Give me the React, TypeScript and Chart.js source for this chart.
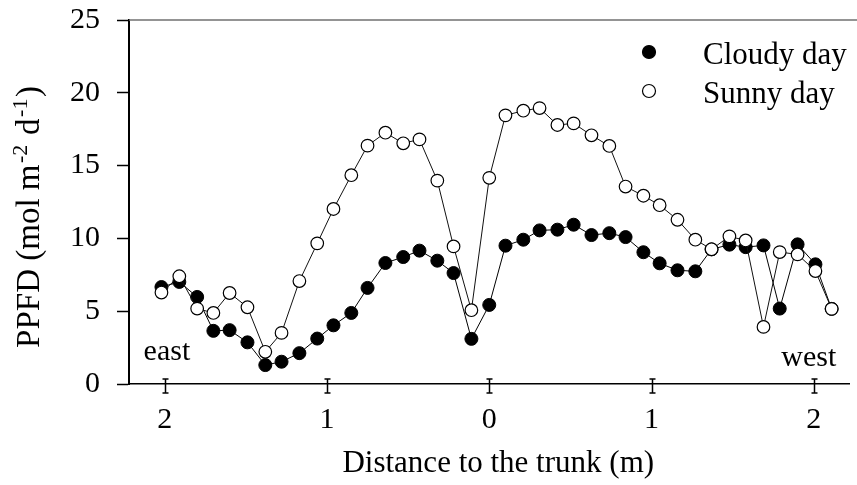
import React, { useEffect, useRef } from "react";
import { Chart, registerables } from "chart.js";

Chart.register(...registerables);

// Distance to the trunk (m); east side negative, west side positive
const distance = [
  -2.02, -1.91, -1.8, -1.7, -1.6, -1.49, -1.38, -1.28, -1.17, -1.06,
  -0.96, -0.85, -0.75, -0.64, -0.53, -0.43, -0.32, -0.22, -0.11, 0.0,
  0.1, 0.21, 0.31, 0.42, 0.52, 0.63, 0.74, 0.84, 0.95, 1.05,
  1.16, 1.27, 1.37, 1.48, 1.58, 1.69, 1.79, 1.9, 2.01, 2.11,
];

const cloudyDay = [
  6.66, 7.01, 5.98, 3.65, 3.7, 2.86, 1.3, 1.53, 2.12, 3.12,
  4.03, 4.88, 6.6, 8.31, 8.72, 9.16, 8.47, 7.62, 3.1, 5.43,
  9.5, 9.91, 10.55, 10.6, 10.94, 10.23, 10.36, 10.09, 9.05, 8.29,
  7.81, 7.74, 9.25, 9.57, 9.4, 9.52, 5.18, 9.59, 8.22, 5.16,
];

const sunnyDay = [
  6.28, 7.4, 5.18, 4.88, 6.25, 5.27, 2.21, 3.51, 7.07, 9.66,
  12.02, 14.34, 16.37, 17.26, 16.53, 16.8, 13.97, 9.45, 5.07, 14.16,
  18.45, 18.77, 18.95, 17.79, 17.9, 17.08, 16.35, 13.56, 12.93, 12.28,
  11.28, 9.91, 9.25, 10.14, 9.86, 3.92, 9.06, 8.9, 7.76, 5.16,
];

const seriesNames = ["Cloudy day", "Sunny day"];
const xTickValues = [-2, -1, 0, 1, 2];
const yTickValues = [0, 5, 10, 15, 20, 25];
const sideLabels = ["east", "west"];
const sideLabelX = [-2.13, 1.8];
const sideLabelY = [1.64, 1.23];
const xTitle = "Distance to the trunk (m)";

const FONT = '"Liberation Serif", "Times New Roman", serif';

const overlayPlugin = {
  id: "overlay",
  beforeDatasetsDraw(chart: any) {
    const { ctx, chartArea, scales } = chart;
    const xs = scales.x;
    ctx.save();
    // top frame line (grey)
    ctx.strokeStyle = "#707070";
    ctx.lineWidth = 1.5;
    ctx.beginPath();
    ctx.moveTo(chartArea.left, chartArea.top);
    ctx.lineTo(chart.width, chartArea.top);
    ctx.stroke();
    // "I" shaped tick marks on x axis
    ctx.strokeStyle = "#000";
    ctx.lineWidth = 1.5;
    const yb = chartArea.bottom;
    for (const v of xTickValues) {
      const px = Math.round(xs.getPixelForValue(v)) + 0.5;
      ctx.beginPath();
      ctx.moveTo(px, yb - 5);
      ctx.lineTo(px, yb + 9);
      ctx.moveTo(px - 3, yb - 5);
      ctx.lineTo(px + 3, yb - 5);
      ctx.moveTo(px - 3, yb + 9);
      ctx.lineTo(px + 3, yb + 9);
      ctx.stroke();
    }
    ctx.restore();
  },
  afterDraw(chart: any) {
    const { ctx, chartArea, scales } = chart;
    const xs = scales.x;
    const ys = scales.y;
    ctx.save();
    ctx.fillStyle = "#000";
    // east / west labels
    ctx.font = `30px ${FONT}`;
    ctx.textBaseline = "alphabetic";
    ctx.textAlign = "left";
    sideLabels.forEach((t, i) => {
      ctx.fillText(t, xs.getPixelForValue(sideLabelX[i]), ys.getPixelForValue(sideLabelY[i]));
    });
    // x-axis title
    ctx.font = `31px ${FONT}`;
    ctx.textAlign = "center";
    ctx.fillText(xTitle, (chartArea.left + chartArea.right) / 2 + 9, chart.height - 13);
    ctx.textAlign = "left";
    // legend
    const lx = 649;
    const rows = [chartArea.top + 32, chartArea.top + 71];
    const fills = ["#000", "#fff"];
    seriesNames.forEach((name, i) => {
      ctx.beginPath();
      ctx.arc(lx, rows[i], 6.5, 0, Math.PI * 2);
      ctx.fillStyle = fills[i];
      ctx.fill();
      ctx.lineWidth = 1.2;
      ctx.strokeStyle = "#000";
      ctx.stroke();
      ctx.fillStyle = "#000";
      ctx.font = `31px ${FONT}`;
      ctx.textBaseline = "alphabetic";
      ctx.fillText(name, lx + 54, rows[i] + 12);
    });
    // y-axis title with superscripts
    const parts: [string, boolean][] = [
      ["PPFD (mol m", false],
      ["-2", true],
      [" d", false],
      ["-1", true],
      [")", false],
    ];
    const mainFont = `33px ${FONT}`;
    const supFont = `22px ${FONT}`;
    let total = 0;
    const widths = parts.map(([t, sup]) => {
      ctx.font = sup ? supFont : mainFont;
      const w = ctx.measureText(t).width + (sup ? 3 : 0);
      total += w;
      return w;
    });
    ctx.translate(38.5, 217);
    ctx.rotate(-Math.PI / 2);
    let cx = -total / 2;
    parts.forEach(([t, sup], i) => {
      ctx.font = sup ? supFont : mainFont;
      ctx.fillText(t, cx + (sup ? 1.5 : 0), sup ? -12 : 0);
      cx += widths[i];
    });
    ctx.restore();
  },
};

export default function App() {
  const ref = useRef<HTMLCanvasElement | null>(null);
  useEffect(() => {
    document.body.style.margin = "0";
    const canvas = ref.current!;
    const chart = new Chart(canvas, {
      type: "line",
      data: {
        datasets: [
          {
            label: seriesNames[0],
            data: distance.map((x, i) => ({ x, y: cloudyDay[i] })),
            borderColor: "#000",
            borderWidth: 1,
            backgroundColor: "#000",
            pointBackgroundColor: "#000",
            pointBorderColor: "#000",
            pointBorderWidth: 1,
            pointRadius: 6.5,
            tension: 0,
            order: 1,
          },
          {
            label: seriesNames[1],
            data: distance.map((x, i) => ({ x, y: sunnyDay[i] })),
            borderColor: "#111",
            borderWidth: 1,
            backgroundColor: "#fff",
            pointBackgroundColor: "#fff",
            pointBorderColor: "#000",
            pointBorderWidth: 1.2,
            pointRadius: 6.3,
            tension: 0,
            order: 0,
          },
        ],
      },
      options: {
        responsive: false,
        animation: false,
        devicePixelRatio: 1,
        layout: { padding: { top: 20, right: 0, left: 0, bottom: 0 } },
        plugins: { legend: { display: false }, tooltip: { enabled: false } },
        scales: {
          x: {
            type: "linear",
            min: -2.22,
            max: 2.22,
            afterFit: (s: any) => {
              s.height = 101;
              s.paddingLeft = 0;
              s.paddingRight = 0;
            },
            afterBuildTicks: (s: any) => {
              s.ticks = xTickValues.map((v) => ({ value: v }));
            },
            ticks: {
              callback: (v: any) => String(Math.abs(Number(v))),
              font: { family: FONT, size: 30 },
              color: "#000",
              padding: 18,
              maxRotation: 0,
              autoSkip: false,
            },
            grid: { display: false, drawTicks: false },
            border: { display: true, color: "#000", width: 1.5 },
            title: { display: false },
          },
          y: {
            type: "linear",
            min: 0,
            max: 25,
            afterFit: (s: any) => {
              s.width = 129;
              s.paddingTop = 0;
              s.paddingBottom = 0;
            },
            afterBuildTicks: (s: any) => {
              s.ticks = yTickValues.map((v) => ({ value: v }));
            },
            ticks: {
              font: { family: FONT, size: 30 },
              color: "#000",
              padding: 17,
            },
            grid: {
              display: true,
              drawOnChartArea: false,
              drawTicks: true,
              tickLength: 12,
              tickWidth: 1.5,
              tickColor: "#000",
            },
            border: { display: true, color: "#000", width: 2 },
          },
        },
      },
      plugins: [overlayPlugin],
    });
    return () => chart.destroy();
  }, []);
  return <canvas ref={ref} width={857} height={485} style={{ display: "block" }} />;
}
